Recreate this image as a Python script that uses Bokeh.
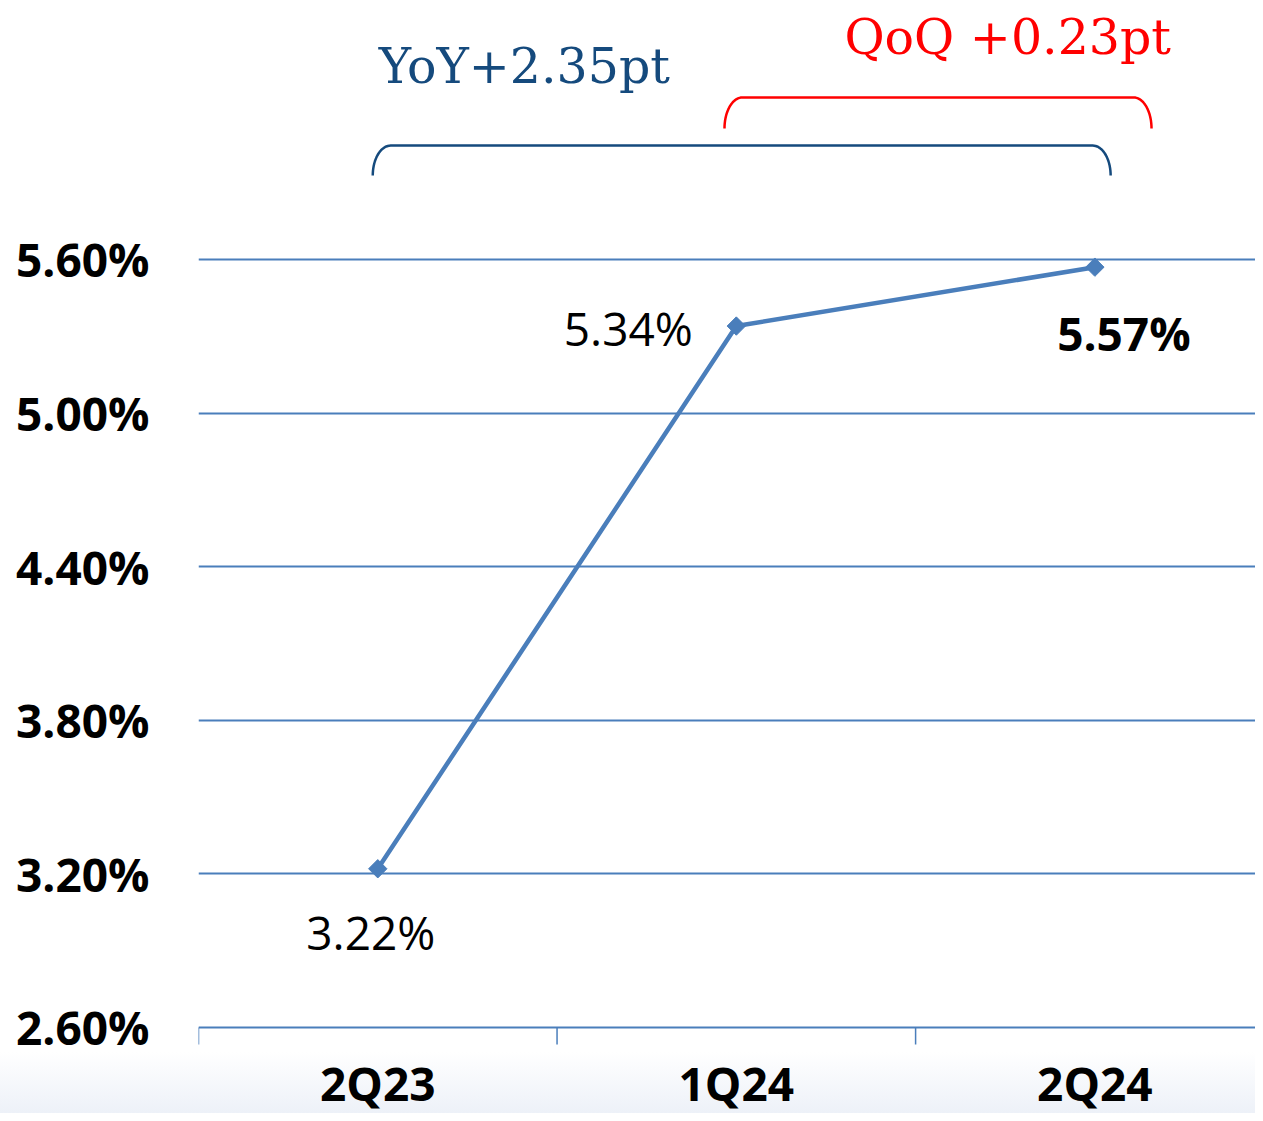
import numpy as np
from bokeh.plotting import figure
from bokeh.layouts import column
from bokeh.models import Range1d, FixedTicker, PrintfTickFormatter, ColumnDataSource
from bokeh.core.properties import value
from bokeh.embed import file_html
from bokeh.resources import INLINE

categories = ["2Q23", "1Q24", "2Q24"]
rates = [3.22, 5.34, 5.57]
label_texts = ["3.22%", "5.34%", "5.57%"]
label_styles = ["normal", "normal", "bold"]
y_ticks = [2.60, 3.20, 3.80, 4.40, 5.00, 5.60]

BLUE = "#4A7EBB"
DARK = "#154A7D"
RED = "#FF0000"
GRAD = "linear-gradient(to bottom, #FFFFFF 0%, #FFFFFF 94.5%, #EDF1F8 100%)"

PX = 256.0  # pixels per 1 percentage point
xs = [i + 0.5 for i in range(len(categories))]
bounds = [float(i) for i in range(len(categories))]
y0 = y_ticks[0]

p = figure(width=1255, height=1113, output_backend="svg", toolbar_location=None,
           x_range=Range1d(0, 2.948), y_range=Range1d(y0 - 86 / PX, 6.6117),
           min_border_left=198, min_border_right=0, min_border_top=0, min_border_bottom=0,
           x_axis_location=None, y_axis_location="left")
p.outline_line_color = None
p.border_fill_color = None
p.background_fill_color = None
p.styles = {"background": GRAD}

# y axis
ya = p.yaxis[0]
ya.ticker = FixedTicker(ticks=y_ticks)
ya.formatter = PrintfTickFormatter(format="%.2f%%")
ya.axis_line_color = None
ya.major_tick_line_color = None
ya.minor_tick_line_color = None
ya.major_label_standoff = 43
ya.major_label_text_font = "Open Sans"
ya.major_label_text_font_style = "bold"
ya.major_label_text_font_size = "46px"
ya.major_label_text_color = "black"

p.ygrid.ticker = FixedTicker(ticks=y_ticks)
p.ygrid.grid_line_color = BLUE
p.ygrid.grid_line_width = 2
p.xgrid.grid_line_color = None

# category boundary ticks hanging below the base line
p.segment(x0=bounds, y0=[y0] * len(bounds), x1=bounds, y1=[y0 - 17 / PX] * len(bounds),
          line_color=BLUE, line_width=1.5)

# category labels
cat_src = ColumnDataSource(dict(x=xs, y=[y0] * len(xs), t=categories))
p.text("x", "y", text="t", source=cat_src, y_offset=56,
       text_font=value("Open Sans"), text_font_style="bold", text_font_size="46px",
       text_align="center", text_baseline="middle", text_color="black")

# series
src = ColumnDataSource(dict(x=xs, y=rates, t=label_texts, s=label_styles,
                            dx=[-7, -108, 29], dy=[63, 2, 66]))
p.line("x", "y", source=src, line_color=BLUE, line_width=4.5)
p.scatter("x", "y", source=src, marker="square", angle=np.pi / 4, size=13,
          fill_color=BLUE, line_color=BLUE)
p.text("x", "y", text="t", source=src, x_offset="dx", y_offset="dy",
       text_font=value("Open Sans"), text_font_style="s", text_font_size="46px",
       text_align="center", text_baseline="middle", text_color="black")

# braces
def brace(x0, x1, ybot, ytop, rx):
    t1 = np.linspace(np.pi, np.pi / 2, 20)
    lx = (x0 + rx) + rx * np.cos(t1)
    ly = ybot + (ytop - ybot) * np.sin(t1)
    t2 = np.linspace(np.pi / 2, 0, 20)
    rxs = (x1 - rx) + rx * np.cos(t2)
    rys = ybot + (ytop - ybot) * np.sin(t2)
    return list(lx) + list(rxs), list(ly) + list(rys)

bx, by = brace(xs[0] - 0.014, xs[2] + 0.044, 5.928, 6.045, 0.05)
p.line(bx, by, line_color=DARK, line_width=2.5)
rx_, ry_ = brace(xs[1] - 0.033, xs[2] + 0.158, 6.112, 6.233, 0.05)
p.line(rx_, ry_, line_color=RED, line_width=2.5)

yoy = f"YoY+{rates[2] - rates[0]:.2f}pt"
qoq = f"QoQ +{rates[2] - rates[1]:.2f}pt"
p.text([0.909], [6.354], text=[yoy], text_font=value("DejaVu Serif"), text_font_size="49px",
       text_align="center", text_baseline="middle", text_color=DARK)
p.text([2.257], [6.469], text=[qoq], text_font=value("DejaVu Serif"), text_font_size="49px",
       text_align="center", text_baseline="middle", text_color=RED)

layout = column(p, styles={"background": GRAD})
open("out.html", "w").write(file_html(layout, INLINE))
